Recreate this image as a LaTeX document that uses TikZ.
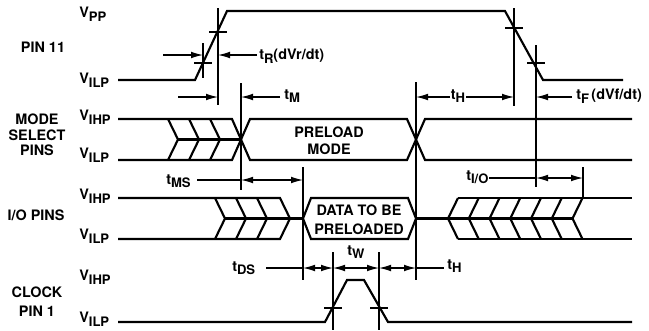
\documentclass[tikz,border=0pt]{standalone}
\usepackage{fontspec}
\setmainfont{TeX Gyre Heros}
\usetikzlibrary{arrows.meta}
\newcommand{\lowsub}[1]{\raisebox{-0.45ex}{\fontsize{9.8}{10}\selectfont #1}}
\tikzset{
  sig/.style={line width=1.6pt, line join=miter},
  guide/.style={line width=0.8pt},
  tickmk/.style={line width=0.8pt},
  dimr/.style={-{Latex[length=9pt,width=5pt]}, line width=0.8pt},
  dimb/.style={{Latex[length=9pt,width=5pt]}-{Latex[length=9pt,width=5pt]}, line width=0.8pt},
  dimln/.style={line width=0.8pt},
  pinlbl/.style={font=\fontsize{10.8}{11.6}\selectfont\bfseries, align=center, inner sep=0pt},
  vlbl/.style={font=\fontsize{10.8}{12}\selectfont\bfseries, anchor=west, inner sep=0pt},
  tlbl/.style={font=\fontsize{10.8}{12}\selectfont\bfseries, inner sep=0pt}
}

\begin{document}
\begin{tikzpicture}[x=0.75pt, y=-0.75pt,
    txt/.style={font=\fontsize{10.8}{#1}\selectfont\bfseries, align=center, inner sep=0pt},
    txt/.default=12.8pt]
  \useasboundingbox (0,0) rectangle (649,330);

  % Pin names (left column)
  \node[pinlbl] (pin11) at (43,47)  {PIN 11};
  \node[pinlbl] (mode)  at (37,135) {MODE\\SELECT\\PINS};
  \node[pinlbl] (iopin) at (36,215) {I/O PINS};
  \node[txt=14.3pt] (clk) at (37,302) {CLOCK\\PIN 1};

  % Levels
  \node[vlbl] (vpp)   at (79,14)  {V\lowsub{PP}};
  \node[vlbl] (vilp1) at (79,80)  {V\lowsub{ILP}};
  \node[vlbl] (vihp2) at (79,117) {V\lowsub{IHP}};
  \node[vlbl] (vilp2) at (79,155) {V\lowsub{ILP}};
  \node[vlbl] (vihp3) at (79,196) {V\lowsub{IHP}};
  \node[vlbl] (vilp3) at (79,236) {V\lowsub{ILP}};
  \node[vlbl] (vihp4) at (79,277) {V\lowsub{IHP}};
  \node[vlbl] (vilp4) at (79,319) {V\lowsub{ILP}};

  % PIN 11 waveform
  \draw[sig] (118,80) -- (195,80) -- (227,11) -- (505,11) -- (543,80) -- (623,80);

  % Mode select pins
  \draw[sig] (118,119) -- (232,119) -- (250,160) -- (407,160) -- (425,119) -- (632,119);
  \draw[sig] (118,160) -- (232,160) -- (250,119) -- (407,119) -- (425,160) -- (632,160);
  \draw[sig] (178,139.5) -- (241,139.5);
  \foreach \x in {168,189,210}
    \draw[sig] (\x,119) -- (\x+10,139.5) -- (\x,160);
  \node[txt=12.75pt] (preload) at (329,141) {PRELOAD\\MODE};

  % I/O pins
  \draw[sig] (118,198) -- (280,198) -- (290,218.5) -- (280,239) -- (118,239);
  \foreach \x in {215,236,257}
    \draw[sig] (\x,198) -- (\x+10,218.5) -- (\x,239);
  \draw[sig] (225,218.5) -- (303,218.5);
  \draw[sig] (303,218.5) -- (311,198) -- (408,198) -- (416,218.5)
             -- (408,239) -- (311,239) -- cycle;
  \node[txt=14.3pt] (data) at (359,220) {DATA TO BE\\PRELOADED};
  \draw[sig] (416,218.5) -- (573,218.5);
  \draw[sig] (458,198) -- (632,198);
  \draw[sig] (458,239) -- (632,239);
  \foreach \i in {0,...,6}
    \draw[sig] ({458+20.75*\i},198) -- ({448+20.75*\i},218.5) -- ({458+20.75*\i},239);

  % Clock pin 1
  \draw[sig] (118,322) -- (325,322) -- (347,280) -- (364,280) -- (388,322) -- (632,322);

  % Reference lines
  \draw[guide] (203,43) -- (203,78);
  \draw[guide] (218,8) -- (218,105);
  \draw[guide] (241,83) -- (241,190);
  \draw[guide] (514,8) -- (514,106);
  \draw[guide] (536,45) -- (536,187);
  \draw[guide] (583,167) -- (583,198);
  \draw[guide] (303,167) -- (303,280);
  \draw[guide] (416,82) -- (416,280);
  \draw[guide] (333,252) -- (333,330);
  \draw[guide] (379,252) -- (379,330);

  % Crossing marks
  \foreach \px/\py in {203/63, 218/32, 514/28, 536/63, 333/308, 379/308}
    \draw[tickmk] (\px-9,\py) -- (\px+9,\py);

  % Named points for timing arrows
  \coordinate (r0) at (163,55);   \coordinate (r1) at (203,55);
  \coordinate (r2) at (218,55);   \coordinate (r3) at (257,55);
  \coordinate (m0) at (178,97);   \coordinate (m1) at (218,97);
  \coordinate (m2) at (241,97);   \coordinate (m3) at (280,97);
  \coordinate (h0) at (416,97);   \coordinate (h1) at (450,97);
  \coordinate (h2) at (466,97);   \coordinate (h3) at (514,97);
  \coordinate (f0) at (536,97);   \coordinate (f1) at (572,97);
  \coordinate (s0) at (197,180);  \coordinate (s1) at (241,180);
  \coordinate (s2) at (303,180);
  \coordinate (o0) at (489,178);  \coordinate (o1) at (536,178);
  \coordinate (o2) at (583,178);
  \coordinate (d0) at (266,268);  \coordinate (d1) at (303,268);
  \coordinate (d2) at (333,268);  \coordinate (d3) at (379,268);
  \coordinate (d4) at (416,268);  \coordinate (d5) at (444,268);

  % Timing labels
  \node[tlbl, anchor=west] (tR)  at (259,56)  {t\lowsub{R}(dVr/dt)};
  \node[tlbl, anchor=west] (tM)  at (284,96)  {t\lowsub{M}};
  \node[tlbl] (tH1)              at (458,96)  {t\lowsub{H}};
  \node[tlbl, anchor=west] (tF)  at (576,96)  {t\lowsub{F}\,(dVf/dt)};
  \node[tlbl, anchor=west] (tMS) at (166,181) {t\lowsub{MS}};
  \node[tlbl, anchor=west] (tIO) at (466,177) {t\lowsub{I/O}};
  \node[tlbl, anchor=west] (tDS) at (232,268) {t\lowsub{DS}};
  \node[tlbl] (tW)               at (356,252) {t\lowsub{W}};
  \node[tlbl, anchor=west] (tH2) at (447,266) {t\lowsub{H}};

  % Timing arrows
  \draw[dimr] (r0) -- (r1);
  \draw[dimr] (r3) -- (r2);
  \draw[dimr] (m0) -- (m1);
  \draw[dimr] (m3) -- (m2);
  \draw[dimr] (h1) -- (h0);
  \draw[dimr] (h2) -- (h3);
  \draw[dimr] (f1) -- (f0);
  \draw[dimln] (s0) -- (s1);
  \draw[dimb] (s1) -- (s2);
  \draw[dimln] (o0) -- (o1);
  \draw[dimb] (o1) -- (o2);
  \draw[dimln] (d0) -- (d1);
  \draw[dimb] (d1) -- (d2);
  \draw[dimb] (d2) -- (d3);
  \draw[dimb] (d3) -- (d4);
  \draw[dimln] (d4) -- (d5);
\end{tikzpicture}
\end{document}
